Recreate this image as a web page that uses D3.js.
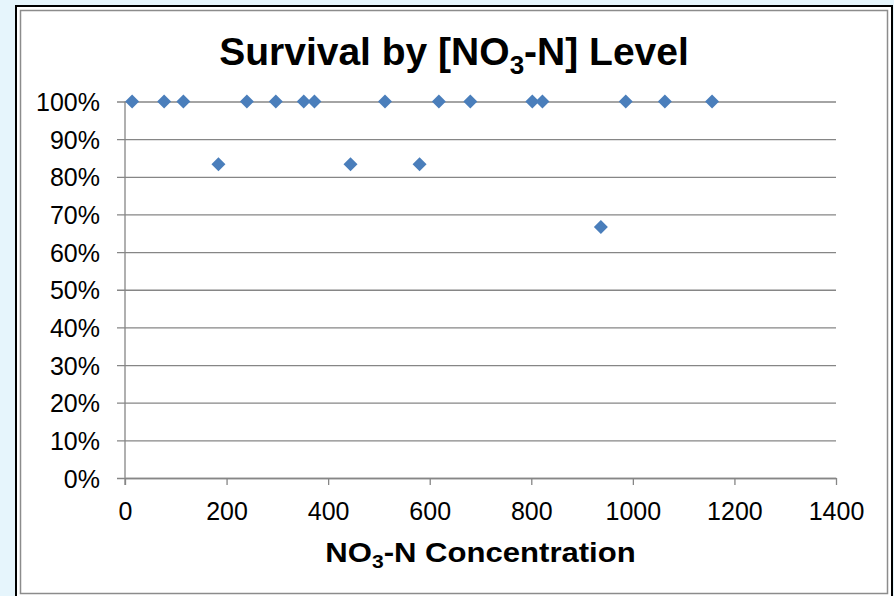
<!DOCTYPE html>
<html>
<head>
<meta charset="utf-8">
<script src="https://cdn.jsdelivr.net/npm/d3@7"></script>
<style>
  html, body { margin: 0; padding: 0; background: #e6f5fc; }
  svg { display: block; }
  text { font-family: "Liberation Sans", Arial, sans-serif; fill: #000; }
</style>
</head>
<body>
<svg id="chart" width="894" height="596"></svg>
<script>
// NO3-N concentration of each sample and the share that survived
const concentration = [14, 77, 115, 184, 240, 297, 352, 373, 444, 512, 580, 618, 680, 802, 822, 937, 986, 1063, 1156];
const survival      = [1, 1, 1, 0.8333, 1, 1, 1, 1, 0.8333, 1, 0.8333, 1, 1, 1, 1, 0.6667, 1, 1, 1];
const xTicks = [0, 200, 400, 600, 800, 1000, 1200, 1400];
const yTicks = [0, 0.1, 0.2, 0.3, 0.4, 0.5, 0.6, 0.7, 0.8, 0.9, 1.0];

const svg = d3.select("#chart");

// frame: black outer border, grey inner border, white chart area
svg.append("rect").attr("x", 16).attr("y", 6).attr("width", 876).attr("height", 592)
  .attr("fill", "#fff").attr("stroke", "#000").attr("stroke-width", 2);
svg.append("rect").attr("x", 20.5).attr("y", 10.5).attr("width", 867).attr("height", 583)
  .attr("fill", "#fff").attr("stroke", "#8c8c8c").attr("stroke-width", 1.5);

const plot = { left: 125, right: 836, top: 101.5, bottom: 478 };
const x = d3.scaleLinear().domain([0, 1400]).range([plot.left, plot.right]);
const y = d3.scaleLinear().domain([0, 1]).range([plot.bottom, plot.top]);

const gridColor = "#868686";

// horizontal gridlines with outward ticks and percent labels
const yAxis = d3.axisLeft(y).tickValues(yTicks).tickFormat(d3.format(".0%"))
  .tickSizeInner(-(plot.right - plot.left)).tickSizeOuter(0).tickPadding(25);
const gy = svg.append("g").attr("transform", `translate(${plot.left},0)`).call(yAxis);
gy.select(".domain").remove();
gy.selectAll(".tick line").attr("x1", -8).attr("stroke", gridColor).attr("stroke-width", 1.3);
gy.selectAll(".tick text").attr("font-size", 25).attr("dy", "0.36em");

// vertical axis line
svg.append("line").attr("x1", plot.left).attr("x2", plot.left)
  .attr("y1", plot.top).attr("y2", plot.bottom + 7)
  .attr("stroke", gridColor).attr("stroke-width", 1.3);

// horizontal axis
const xAxis = d3.axisBottom(x).tickValues(xTicks).tickFormat(d3.format("d"))
  .tickSizeInner(7).tickSizeOuter(0).tickPadding(17);
const gx = svg.append("g").attr("transform", `translate(0,${plot.bottom})`).call(xAxis);
gx.select(".domain").attr("stroke", gridColor).attr("stroke-width", 1.3);
gx.selectAll(".tick line").attr("stroke", gridColor).attr("stroke-width", 1.3);
gx.selectAll(".tick text").attr("font-size", 25).attr("dy", "0.72em");

// diamond markers
const diamond = d3.symbol().type(d3.symbolSquare).size(98);
svg.append("g").selectAll("path")
  .data(concentration.map((c, i) => ({ c, s: survival[i] })))
  .join("path")
  .attr("d", diamond)
  .attr("transform", d => `translate(${x(d.c)},${y(d.s)}) rotate(45)`)
  .attr("fill", "#4a7ebb");

// title with subscript
const title = svg.append("text").attr("x", 454).attr("y", 65)
  .attr("text-anchor", "middle").attr("font-size", 39).attr("font-weight", "bold");
title.append("tspan").text("Survival by [NO");
title.append("tspan").text("3").attr("font-size", 26).attr("dy", 9);
title.append("tspan").text("-N] Level").attr("dy", -9);

// x axis label with subscript, set slightly wide
const xl = svg.append("text")
  .attr("transform", `translate(${(plot.left + plot.right) / 2},562) scale(1.11,1)`)
  .attr("text-anchor", "middle").attr("font-size", 28).attr("font-weight", "bold");
xl.append("tspan").text("NO");
xl.append("tspan").text("3").attr("font-size", 19).attr("dy", 6);
xl.append("tspan").text("-N Concentration").attr("dy", -6);
</script>
</body>
</html>
